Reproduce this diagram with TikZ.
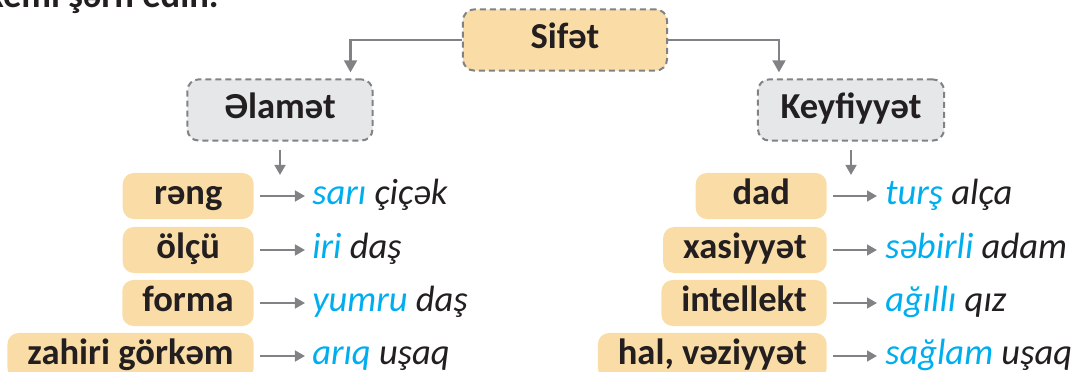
\documentclass[tikz,border=0pt]{standalone}
\usepackage{fontspec}
\setmainfont{Carlito}
\usetikzlibrary{arrows.meta}
\definecolor{sari}{HTML}{FADDA6}
\definecolor{boz}{HTML}{E6E7E8}
\definecolor{xett}{HTML}{808285}
\definecolor{mavi}{HTML}{00AEEF}
\definecolor{qara}{HTML}{231F20}
\newcommand\iriyazi{\fontsize{26}{30}\selectfont}
\tikzset{
  qutu/.style={fill=sari, rounded corners=0.28cm, minimum height=1.15cm, minimum width=3.275cm,
    inner xsep=0.5cm, text height=0.62cm, text depth=0.2cm, font=\iriyazi\bfseries, text=qara},
  basliq/.style={qutu, draw=xett, line width=0.05cm, dash pattern=on 0.15cm off 0.1cm, minimum height=1.53cm},
  misal/.style={inner xsep=0pt, text height=0.62cm, text depth=0.2cm, font=\iriyazi\itshape, text=qara, anchor=west},
  ox/.style={draw=xett, line width=0.06cm, -{Triangle[length=0.3cm,width=0.32cm]}, shorten >=0.15cm},
  kicikox/.style={draw=xett, line width=0.05cm, -{Triangle[length=0.25cm,width=0.27cm]}},
}
\begin{document}
\begin{tikzpicture}[x=0.025cm, y=-0.025cm]
    \clip (0,0) rectangle (1079,372);
    \node[font=\iriyazi\bfseries, text=qara, inner sep=0pt, anchor=base east] (tapsiriq) at (219,8) {Sxemi şərh edin.};
    % esas qutular
    \node[basliq, minimum width=5.1cm] (sifet) at (565,40) {Sifət};
    \node[basliq, fill=boz, minimum width=4.625cm] (elamet) at (280,110) {Əlamət};
    \node[basliq, fill=boz, minimum width=4.65cm] (keyfiyyet) at (851,110) {Keyfiyyət};
    \draw[ox] (sifet.west) -| ([xshift=-0.575cm]elamet.north east);
    \draw[ox] (sifet.east) -| ([xshift=0.55cm]keyfiyyet.north west);
    \coordinate (elamet-alt) at (280,175);
    \coordinate (keyfiyyet-alt) at (851,175);
    \draw[kicikox, shorten <=0.2cm] (elamet) -- (elamet-alt);
    \draw[kicikox, shorten <=0.2cm] (keyfiyyet) -- (keyfiyyet-alt);
    % elamet
    \node[qutu, anchor=east] (reng) at (254,196) {rəng};
    \node[qutu, anchor=east] (olcu) at (254,250) {ölçü};
    \node[qutu, anchor=east] (forma) at (254,303) {forma};
    \node[qutu, anchor=east] (zahiri) at (254,356) {zahiri görkəm};
    \node[misal] (reng-m) at (312,196) {{\color{mavi}sarı} çiçək};
    \node[misal] (olcu-m) at (312,250) {{\color{mavi}iri} daş};
    \node[misal] (forma-m) at (312,303) {{\color{mavi}yumru} daş};
    \node[misal] (zahiri-m) at (312,356) {{\color{mavi}arıq} uşaq};
    \draw[kicikox, shorten <=0.15cm, shorten >=0.175cm] (reng) -- (reng-m);
    \draw[kicikox, shorten <=0.15cm, shorten >=0.175cm] (olcu) -- (olcu-m);
    \draw[kicikox, shorten <=0.15cm, shorten >=0.175cm] (forma) -- (forma-m);
    \draw[kicikox, shorten <=0.15cm, shorten >=0.175cm] (zahiri) -- (zahiri-m);
    % keyfiyyet
    \node[qutu, anchor=east] (dad) at (827,196) {dad};
    \node[qutu, anchor=east] (xasiyyet) at (827,250) {xasiyyət};
    \node[qutu, anchor=east] (intellekt) at (827,303) {intellekt};
    \node[qutu, anchor=east] (hal) at (827,356) {hal, vəziyyət};
    \node[misal] (dad-m) at (885,196) {{\color{mavi}turş} alça};
    \node[misal] (xasiyyet-m) at (885,250) {{\color{mavi}səbirli} adam};
    \node[misal] (intellekt-m) at (885,303) {{\color{mavi}ağıllı} qız};
    \node[misal] (hal-m) at (885,356) {{\color{mavi}sağlam} uşaq};
    \draw[kicikox, shorten <=0.15cm, shorten >=0.2cm] (dad) -- (dad-m);
    \draw[kicikox, shorten <=0.15cm, shorten >=0.2cm] (xasiyyet) -- (xasiyyet-m);
    \draw[kicikox, shorten <=0.15cm, shorten >=0.2cm] (intellekt) -- (intellekt-m);
    \draw[kicikox, shorten <=0.15cm, shorten >=0.2cm] (hal) -- (hal-m);
\end{tikzpicture}
\end{document}
